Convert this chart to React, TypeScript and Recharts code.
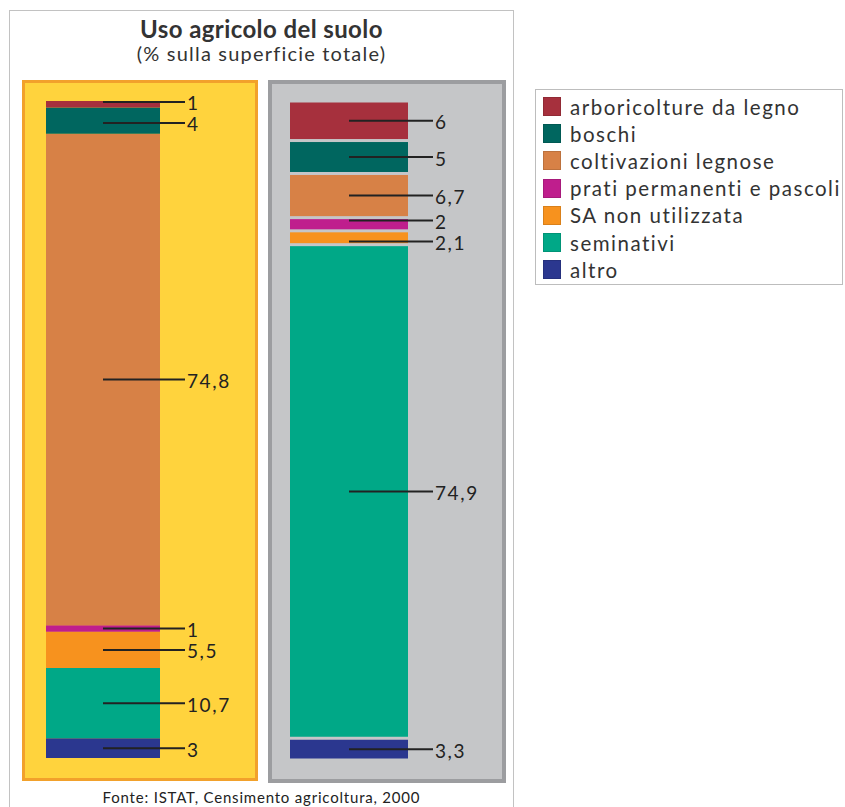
import React from "react";
import { BarChart, Bar, XAxis, YAxis, LabelList } from "recharts";

// series, listed top to bottom as they appear in the stack and legend
const seriesNames = [
  "arboricolture da legno",
  "boschi",
  "coltivazioni legnose",
  "prati permanenti e pascoli",
  "SA non utilizzata",
  "seminativi",
  "altro",
];

const COLORS = ["#A6303D", "#00665F", "#D78146", "#BF1E8D", "#F7921E", "#00A887", "#2B378F"];

// % sulla superficie totale
const leftValues = [1, 4, 74.8, 1, 5.5, 10.7, 3];
const rightValues = [6, 5, 6.7, 2, 2.1, 74.9, 3.3];

const FONT = "Lato, 'Open Sans', sans-serif";
const MIN_LABEL_GAP = 21;

const toRow = (name: string, values: number[]) => {
  const row: Record<string, any> = { name };
  values.forEach((v, i) => (row[`s${i}`] = v));
  return row;
};

const fmt = (v: number) => String(v).replace(".", ",");

// leader line from the middle of the segment out to the value
const Leader = (props: any) => {
  const { x, y, width, height, value, shift = 0 } = props;
  const cy = Number(y) + Number(height) / 2 + shift;
  const x0 = Number(x) + Number(width) / 2;
  const x1 = Number(x) + Number(width) + 25;
  return (
    <g>
      <line x1={x0} y1={cy} x2={x1} y2={cy} stroke="#222" strokeWidth={2} />
      <text
        x={x1 + 2}
        y={cy + 1}
        dominantBaseline="central"
        fontFamily={FONT}
        fontSize={19}
        fill="#222"
        letterSpacing={1.6}
      >
        {fmt(value)}
      </text>
    </g>
  );
};

// segment with a white gap above/below (right panel)
const GapShape = (props: any) => {
  const { x, y, width, height, fill } = props;
  const g = 3;
  return <rect x={x} y={y + g / 2} width={width} height={Math.max(0, height - g)} fill={fill} />;
};

function StackPanel({
  values,
  name,
  width,
  height,
  barSize,
  margin,
  sep,
}: {
  values: number[];
  name: string;
  width: number;
  height: number;
  barSize: number;
  margin: any;
  sep: boolean;
}) {
  const data = [toRow(name, values)];

  // nudge labels of thin neighbouring segments apart
  const plotH = height - margin.top - margin.bottom;
  let cum = 0;
  const natural = values.map((v) => {
    const c = margin.top + ((cum + v / 2) / 100) * plotH;
    cum += v;
    return c;
  });
  const placed = [...natural];
  for (let i = 1; i < placed.length; i++) {
    if (placed[i] - placed[i - 1] < MIN_LABEL_GAP) {
      const mid = (placed[i] + placed[i - 1]) / 2;
      placed[i - 1] = mid - MIN_LABEL_GAP / 2;
      placed[i] = mid + MIN_LABEL_GAP / 2;
    }
  }
  const shifts = placed.map((p, i) => p - natural[i]);

  // first Bar sits at the bottom, so draw from "altro" upward
  const order = seriesNames.map((_, i) => seriesNames.length - 1 - i);
  return (
    <BarChart width={width} height={height} data={data} margin={margin} barCategoryGap="0%">
      <XAxis dataKey="name" hide />
      <YAxis hide domain={[0, 100]} />
      {order.map((i) => (
        <Bar
          key={i}
          dataKey={`s${i}`}
          name={seriesNames[i]}
          stackId="a"
          fill={COLORS[i]}
          barSize={barSize}
          shape={sep ? <GapShape /> : undefined}
          isAnimationActive={false}
        >
          <LabelList dataKey={`s${i}`} content={<Leader shift={shifts[i]} />} />
        </Bar>
      ))}
    </BarChart>
  );
}

export default function App() {
  return (
    <div
      style={{
        position: "absolute",
        left: 0,
        top: 0,
        width: 845,
        height: 807,
        background: "#fff",
        fontFamily: FONT,
        overflow: "hidden",
      }}
    >
      {/* outer frame */}
      <div
        style={{
          position: "absolute",
          left: 9,
          top: 10,
          width: 505,
          height: 820,
          border: "1.5px solid #c2c2c2",
          boxSizing: "border-box",
        }}
      />
      <div
        style={{
          position: "absolute",
          left: 9,
          width: 505,
          top: 17,
          textAlign: "center",
          color: "#333",
          lineHeight: 1.0,
        }}
      >
        <div style={{ fontSize: 24, fontWeight: 700, letterSpacing: 0.4 }}>Uso agricolo del suolo</div>
        <div style={{ fontSize: 20, letterSpacing: 1.2, marginTop: 2 }}>(% sulla superficie totale)</div>
      </div>

      {/* left panel */}
      <div
        style={{
          position: "absolute",
          left: 22,
          top: 80,
          width: 236,
          height: 701,
          background: "#FFD33D",
          border: "3px solid #F2A12B",
          boxSizing: "border-box",
        }}
      >
        <StackPanel
          values={leftValues}
          name="A"
          width={230}
          height={695}
          barSize={114}
          margin={{ top: 18, right: 94, bottom: 20, left: 20 }}
          sep={false}
        />
      </div>

      {/* right panel */}
      <div
        style={{
          position: "absolute",
          left: 268,
          top: 80,
          width: 238,
          height: 703,
          background: "#C5C6C8",
          border: "4px solid #9C9DA0",
          boxSizing: "border-box",
        }}
      >
        <StackPanel
          values={rightValues}
          name="B"
          width={230}
          height={695}
          barSize={118}
          margin={{ top: 17, right: 93, bottom: 19, left: 17 }}
          sep={true}
        />
      </div>

      {/* legend */}
      <div
        style={{
          position: "absolute",
          left: 535,
          top: 89,
          width: 308,
          height: 196,
          border: "1px solid #bdbdbd",
          boxSizing: "border-box",
          paddingTop: 3,
        }}
      >
        {seriesNames.map((s, i) => (
          <div
            key={s}
            style={{ display: "flex", alignItems: "center", height: 27.2, paddingLeft: 7 }}
          >
            <div
              style={{
                width: 18,
                height: 19,
                background: COLORS[i],
                border: "1px solid rgba(0,0,0,0.12)",
                boxSizing: "border-box",
                marginRight: 9,
              }}
            />
            <span style={{ fontSize: 20.5, color: "#333", whiteSpace: "nowrap", letterSpacing: 1.5 }}>
              {s}
            </span>
          </div>
        ))}
      </div>

      {/* source */}
      <div
        style={{
          position: "absolute",
          left: 9,
          width: 505,
          top: 788,
          textAlign: "center",
          fontSize: 15,
          color: "#222",
          letterSpacing: 0.8,
        }}
      >
        Fonte: ISTAT, Censimento agricoltura, 2000
      </div>
    </div>
  );
}
